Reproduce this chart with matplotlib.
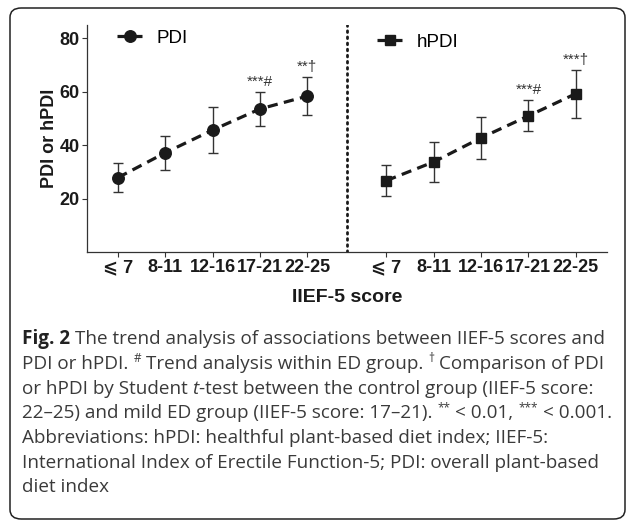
import numpy as np
import matplotlib
matplotlib.use("Agg")
import matplotlib.pyplot as plt
from matplotlib.patches import FancyBboxPatch

# ---------------- data ----------------
groups = ["⩽ 7", "8-11", "12-16", "17-21", "22-25"]

pdi_mean = [27.9, 37.2, 45.7, 53.6, 58.4]
pdi_low = [22.7, 30.8, 37.0, 47.4, 51.3]
pdi_high = [33.3, 43.5, 54.4, 59.9, 65.5]

hpdi_mean = [26.8, 33.8, 42.8, 51.0, 59.3]
hpdi_low = [20.9, 26.3, 34.8, 45.4, 50.4]
hpdi_high = [32.7, 41.4, 50.6, 56.9, 68.2]

pdi_marks = ["", "", "", "***#", "**†"]
hpdi_marks = ["", "", "", "***#", "***†"]

yticks = [20, 40, 60, 80]

caption_lines = [
    [("Fig. 2", "bold"), (" The trend analysis of associations between IIEF-5 scores and", "normal")],
    [("PDI or hPDI. ", "normal"), ("#", "sup"), (" Trend analysis within ED group. ", "normal"),
     ("†", "sup"), (" Comparison of PDI", "normal")],
    [("or hPDI by Student ", "normal"), ("t", "italic"),
     ("-test between the control group (IIEF-5 score:", "normal")],
    [("22–25) and mild ED group (IIEF-5 score: 17–21). ", "normal"), ("**", "sup"),
     (" < 0.01, ", "normal"), ("***", "sup"), (" < 0.001.", "normal")],
    [("Abbreviations: hPDI: healthful plant-based diet index; IIEF-5:", "normal")],
    [("International Index of Erectile Function-5; PDI: overall plant-based", "normal")],
    [("diet index", "normal")],
]

# ---------------- plotting ----------------
W, H = 627, 521
fig = plt.figure(figsize=(W / 100, H / 100), dpi=100)
ax = fig.add_axes([87 / W, 1 - 252.3 / H, 520 / W, 227.3 / H])

x1 = np.arange(5)
x2 = np.arange(5) + 5.67
dark = "#1a1a1a"
arial = ["Liberation Sans", "DejaVu Sans"]

def panel(xs, mean, low, high, marker, ms, label):
    mean = np.array(mean)
    err = [mean - np.array(low), np.array(high) - mean]
    ax.errorbar(xs, mean, yerr=err, fmt="none", ecolor="#333333", elinewidth=1.0,
                capsize=3.8, capthick=1.0, zorder=2)
    ln, = ax.plot(xs, mean, linestyle=(0, (3.2, 2.0)), lw=2.3, color=dark,
                  marker=marker, ms=ms, mfc=dark, mec=dark, label=label, zorder=3)
    return ln

l1 = panel(x1, pdi_mean, pdi_low, pdi_high, "o", 8.3, "PDI")
l2 = panel(x2, hpdi_mean, hpdi_low, hpdi_high, "s", 7.6, "hPDI")

for xs, high, marks in [(x1, pdi_high, pdi_marks), (x2, hpdi_high, hpdi_marks)]:
    for xx, hh, m in zip(xs, high, marks):
        if m:
            ax.annotate(m, (xx, hh), xytext=(0, 2), textcoords="offset points",
                        ha="center", va="bottom", fontsize=11, color="#333333",
                        family=arial)

ax.axvline(4.835, color=dark, linestyle=(0, (0.6, 1.6)), lw=2.0, dash_capstyle="round")

ax.set_xlim(-0.65, 10.33)
ax.set_ylim(0, 85)
ax.set_yticks(yticks)
ax.set_xticks(np.concatenate([x1, x2]))
ax.set_xticklabels(groups + groups)
for lab in ax.get_xticklabels() + ax.get_yticklabels():
    lab.set_fontfamily(arial)
    lab.set_fontweight("bold")
    lab.set_fontsize(13)
    lab.set_color(dark)
ax.tick_params(axis="both", length=3.6, width=0.8, color="#333333", pad=1.5)
for s in ["top", "right"]:
    ax.spines[s].set_visible(False)
for s in ["left", "bottom"]:
    ax.spines[s].set_linewidth(0.9)
    ax.spines[s].set_color("#333333")

ax.set_ylabel("PDI or hPDI", fontsize=13, fontweight="bold", family="Liberation Sans",
              color=dark, labelpad=1)
ax.set_xlabel("IIEF-5 score", fontsize=14, fontweight="bold", family="Liberation Sans",
              color=dark, labelpad=9)

leg_kw = dict(loc="center left", frameon=False, handlelength=1.35, handletextpad=0.75,
              borderpad=0, borderaxespad=0, prop={"family": "Liberation Sans", "size": 13.5})
leg1 = ax.legend(handles=[l1], bbox_to_anchor=((117 - 87) / 520, (252.3 - 38) / 227.3), **leg_kw)
ax.add_artist(leg1)
ax.legend(handles=[l2], bbox_to_anchor=((377 - 87) / 520, (252.3 - 42) / 227.3), **leg_kw)

# rounded frame around the whole figure
frame = FancyBboxPatch((10 / W, 1 - 519 / H), 615 / W, 511 / H,
                       boxstyle="round,pad=0,rounding_size=0.018", transform=fig.transFigure,
                       fill=False, ec="#222222", lw=1.1)
fig.patches.append(frame)

# ---------------- caption ----------------
renderer = fig.canvas.get_renderer()
cap_size = 13.6
cap_color = "#3a3a3a"

def text_width(s, **kw):
    t = fig.text(0, 0, s, **kw)
    w = t.get_window_extent(renderer).width
    t.remove()
    return w

def draw_line(y_px, runs, x_px=22):
    x = x_px
    for s, style in runs:
        kw = dict(family="Open Sans", fontsize=cap_size, color=cap_color)
        dy = 0
        if style == "bold":
            kw["fontweight"] = "bold"
            kw["color"] = "#222222"
        elif style == "italic":
            kw["fontstyle"] = "italic"
        elif style == "sup":
            kw["fontsize"] = cap_size * 0.62
            dy = 7
        sp = text_width("x x", **kw) - text_width("xx", **kw)
        core = s.strip(" ")
        lead = len(s) - len(s.lstrip(" "))
        trail = len(s) - len(s.rstrip(" "))
        x += lead * sp
        t = fig.text(x / W, 1 - (y_px - dy) / H, core, va="baseline", ha="left", **kw)
        x += t.get_window_extent(renderer).width + trail * sp

baselines = [344, 369, 393.5, 418, 443, 467.5, 492]
for yb, runs in zip(baselines, caption_lines):
    draw_line(yb, runs)

fig.savefig("out.png", dpi=100)
